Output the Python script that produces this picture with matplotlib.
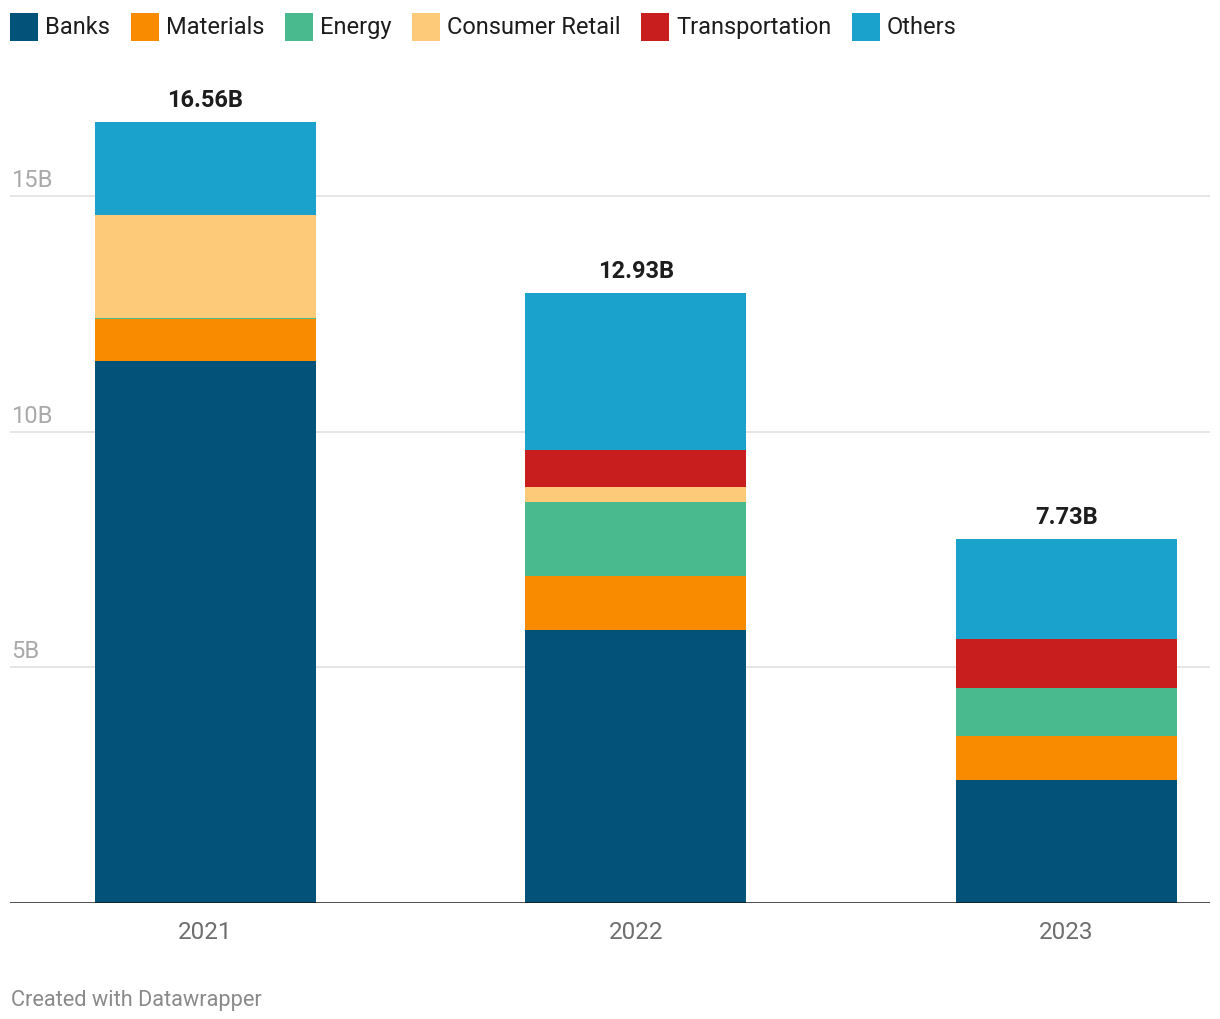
import matplotlib
matplotlib.use("Agg")
import matplotlib.pyplot as plt
from matplotlib.patches import Rectangle
import numpy as np

years = ["2021", "2022", "2023"]
series_names = ["Banks", "Materials", "Energy", "Consumer Retail", "Transportation", "Others"]
banks = [11.50, 5.79, 2.61]
materials = [0.88, 1.15, 0.94]
energy = [0.02, 1.56, 1.01]
consumer_retail = [2.19, 0.32, 0.00]
transportation = [0.00, 0.78, 1.04]
others = [1.97, 3.33, 2.13]
totals = [16.56, 12.93, 7.73]
y_ticks = [5, 10, 15]
y_tick_labels = ["5B", "10B", "15B"]

colors = ["#03527a", "#f98b00", "#49b98e", "#fdca7a", "#c81e1e", "#1aa2cd"]
series = [banks, materials, energy, consumer_retail, transportation, others]

plt.rcParams['font.family'] = ['Roboto', 'DejaVu Sans']

W, H = 1220, 1020
fig = plt.figure(figsize=(W / 100, H / 100), dpi=100)

base_px = 904.3
top_px = 80
ppu = (903.3 - 195.7) / 15.0
ax = fig.add_axes([10 / W, (H - base_px) / H, 1200 / W, (base_px - top_px) / H])
ax.set_ylim(0, (base_px - top_px) / ppu)
spacing = 430.5
c0 = 205.5
ax.set_xlim((10 - c0) / spacing, (1210 - c0) / spacing)

x = np.arange(len(years))
bottom = np.zeros(len(years))
for name, vals, col in zip(series_names, series, colors):
    vals = np.array(vals)
    ax.bar(x, vals, bottom=bottom, width=221 / spacing, color=col, linewidth=0, zorder=3)
    bottom += vals

for s in ax.spines.values():
    s.set_visible(False)
ax.set_xticks([])
ax.set_yticks([])

# gridlines and y labels
for v, lab in zip(y_ticks, y_tick_labels):
    ax.axhline(v, color="#e3e3e3", lw=1.3, zorder=1)
    ax.annotate(lab, xy=(0, v), xycoords=("axes fraction", "data"),
                xytext=(1 * 0.72, 10 * 0.72), textcoords="offset points",
                ha="left", va="baseline", fontsize=17, color="#a9a9a9")

ax.axhline(0, color="#1a1a1a", lw=1.8, zorder=4)

# value labels
for xi, t in zip(x, totals):
    ax.annotate(f"{t:.2f}B", xy=(xi, bottom[xi]), xytext=(0, 16 * 0.72),
                textcoords="offset points", ha="center", va="baseline",
                fontsize=17, fontweight="bold", color="#1d1d1d")

# year labels
for xi, yr in zip(x, years):
    ax.annotate(yr, xy=(xi, 0), xytext=(0, -34.5 * 0.72), textcoords="offset points",
                ha="center", va="baseline", fontsize=17.5, color="#6e6e6e")

# legend
fig.canvas.draw()
renderer = fig.canvas.get_renderer()
xpos = 10
sq = 28
for name, col in zip(series_names, colors):
    fig.add_artist(Rectangle((xpos / W, 1 - 42 / H), sq / W, sq / H,
                             transform=fig.transFigure, color=col, lw=0))
    t = fig.text((xpos + sq + 7) / W, 1 - 34 / H, name, fontsize=17,
                 color="#1d1d1d", ha="left", va="baseline")
    bb = t.get_window_extent(renderer)
    xpos = bb.x1 + 20.7

fig.text(11 / W, 1 - 1006 / H, "Created with Datawrapper", fontsize=15.7,
         color="#8a8a8a", ha="left", va="baseline")

fig.savefig("out.png", dpi=100, facecolor="white")
